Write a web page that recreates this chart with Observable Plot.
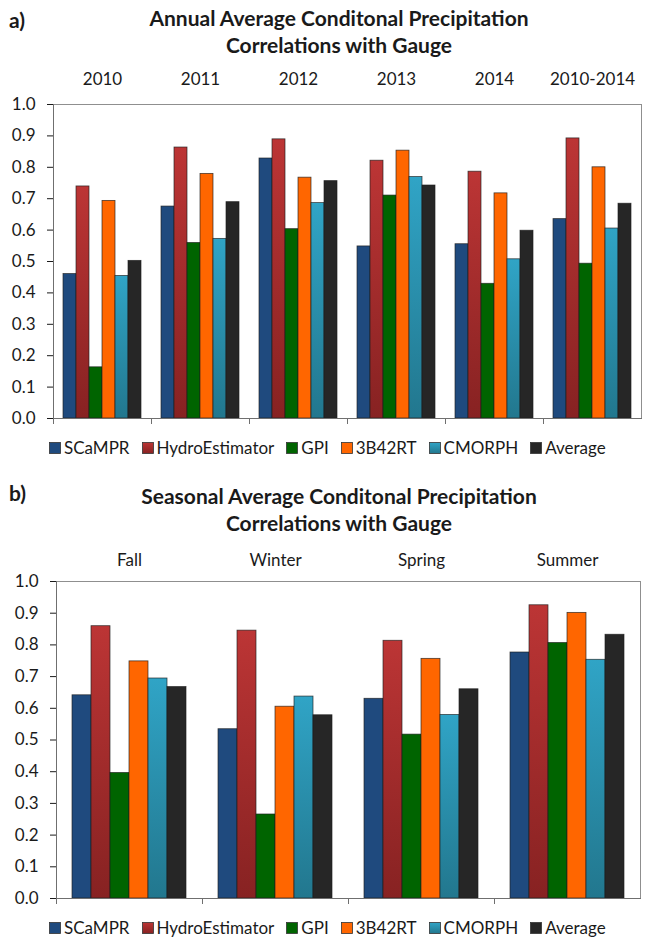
<!DOCTYPE html>
<html><head><meta charset="utf-8">
<script src="https://cdn.jsdelivr.net/npm/d3@7"></script>
<script src="https://cdn.jsdelivr.net/npm/@observablehq/plot@0.6"></script>
<style>
body{margin:0;background:#fff;font-family:Lato,"Open Sans",sans-serif;color:#1a1a1a}
#page{position:relative;width:645px;height:940px;overflow:hidden;background:#fff}
.abs{position:absolute}
.plabel{font-weight:bold;font-size:21px;line-height:24px;left:9px}
.title{font-weight:bold;font-size:21px;line-height:27px;text-align:center;left:0;width:678px}
.legend{display:flex;align-items:center;font-size:17px;line-height:20px;white-space:nowrap}
.legend .item{display:flex;align-items:center;margin-right:12px}
.legend svg{margin-right:3px}
</style></head><body>
<svg width="0" height="0" style="position:absolute"><defs>
<linearGradient id="gRed" x1="0" y1="0" x2="0" y2="1"><stop offset="0" stop-color="#BC3535"/><stop offset="1" stop-color="#872222"/></linearGradient>
<linearGradient id="gCyan" x1="0" y1="0" x2="0" y2="1"><stop offset="0" stop-color="#30A4C6"/><stop offset="1" stop-color="#22778E"/></linearGradient>
</defs></svg>
<div id="page">
  <div class="abs plabel" style="top:8px">a)</div>
  <div class="abs title" style="top:4px">Annual Average Conditonal Precipitation<br>Correlations with Gauge</div>
  <div class="abs" id="chartA" style="left:0;top:62px"></div>
  <div class="abs legend" id="legA" style="left:49px;top:438px"></div>
  <div class="abs plabel" style="top:481px">b)</div>
  <div class="abs title" style="top:482px">Seasonal Average Conditonal Precipitation<br>Correlations with Gauge</div>
  <div class="abs" id="chartB" style="left:0;top:540px"></div>
  <div class="abs legend" id="legB" style="left:49px;top:918px"></div>
</div>
<script>
const series = ["SCaMPR", "HydroEstimator", "GPI", "3B42RT", "CMORPH", "Average"];
const fills = ["#1F4A7E", "url(#gRed)", "#006400", "#FF6600", "url(#gCyan)", "#262626"];
const yTicks = [0, 0.1, 0.2, 0.3, 0.4, 0.5, 0.6, 0.7, 0.8, 0.9, 1.0];

// Panel a: annual
const years = ["2010", "2011", "2012", "2013", "2014", "2010-2014"];
const scamprA = [0.460, 0.675, 0.828, 0.548, 0.555, 0.635];
const hydroA  = [0.739, 0.863, 0.889, 0.821, 0.786, 0.892];
const gpiA    = [0.163, 0.559, 0.603, 0.710, 0.429, 0.493];
const b42A    = [0.693, 0.779, 0.767, 0.853, 0.717, 0.800];
const cmorphA = [0.454, 0.572, 0.686, 0.769, 0.507, 0.605];
const avgA    = [0.502, 0.689, 0.756, 0.742, 0.598, 0.684];

// Panel b: seasonal
const seasons = ["Fall", "Winter", "Spring", "Summer"];
const scamprB = [0.641, 0.534, 0.630, 0.776];
const hydroB  = [0.859, 0.845, 0.813, 0.925];
const gpiB    = [0.396, 0.265, 0.517, 0.806];
const b42B    = [0.748, 0.605, 0.756, 0.901];
const cmorphB = [0.694, 0.637, 0.579, 0.753];
const avgB    = [0.667, 0.578, 0.660, 0.832];

function chart(groups, cols, m) {
  const data = [];
  groups.forEach((g, i) => series.forEach((s, j) => data.push({group: g, series: s, value: cols[j][i]})));
  const plotH = m.height - m.top - m.bottom;
  return Plot.plot({
    width: 645, height: m.height,
    marginLeft: m.left, marginRight: m.right, marginTop: m.top, marginBottom: m.bottom,
    style: {fontFamily: "Lato, 'Open Sans', sans-serif", fontSize: "17px", color: "#1a1a1a", background: "transparent", overflow: "visible"},
    fx: {domain: groups, padding: 0, axis: "top", label: null, tickSize: 0, tickPadding: m.fxPad},
    x: {domain: series, paddingInner: 0, paddingOuter: 0.75, axis: null},
    y: {domain: [0, 1], ticks: yTicks, tickFormat: d3.format(".1f"), label: null, tickSize: 6, tickPadding: 12},
    color: {domain: series, range: fills},
    marks: [
      Plot.frame({anchor: "top", stroke: "#8f8f8f"}),
      Plot.frame({anchor: "right", stroke: "#8f8f8f", facetAnchor: "right"}),
      Plot.barY(data, {fx: "group", x: "series", y: "value", fill: "series", stroke: "#1e1e1e", strokeWidth: 0.8, strokeOpacity: 0.8}),
      Plot.frame({anchor: "bottom", stroke: "#6f6f6f"}),
      Plot.frame({anchor: "left", stroke: "#6f6f6f", facetAnchor: "left"}),
      Plot.frame({anchor: "left", stroke: "#6f6f6f", insetTop: plotH, insetBottom: -5})
    ]
  });
}

document.getElementById("chartA").appendChild(
  chart(years, [scamprA, hydroA, gpiA, b42A, cmorphA, avgA], {height: 370, left: 52, right: 3, top: 42, bottom: 14, fxPad: 20})
);
document.getElementById("chartB").appendChild(
  chart(seasons, [scamprB, hydroB, gpiB, b42B, cmorphB, avgB], {height: 372, left: 55, right: 4, top: 41, bottom: 14, fxPad: 16})
);

function legend(id) {
  const el = document.getElementById(id);
  series.forEach((s, i) => {
    const item = document.createElement("div");
    item.className = "item";
    item.innerHTML = `<svg width="12" height="12"><rect x="0.5" y="0.5" width="11" height="11" fill="${fills[i]}" stroke="#333" stroke-width="0.8"/></svg><span>${s}</span>`;
    el.appendChild(item);
  });
}
legend("legA");
legend("legB");
</script>
</body></html>
